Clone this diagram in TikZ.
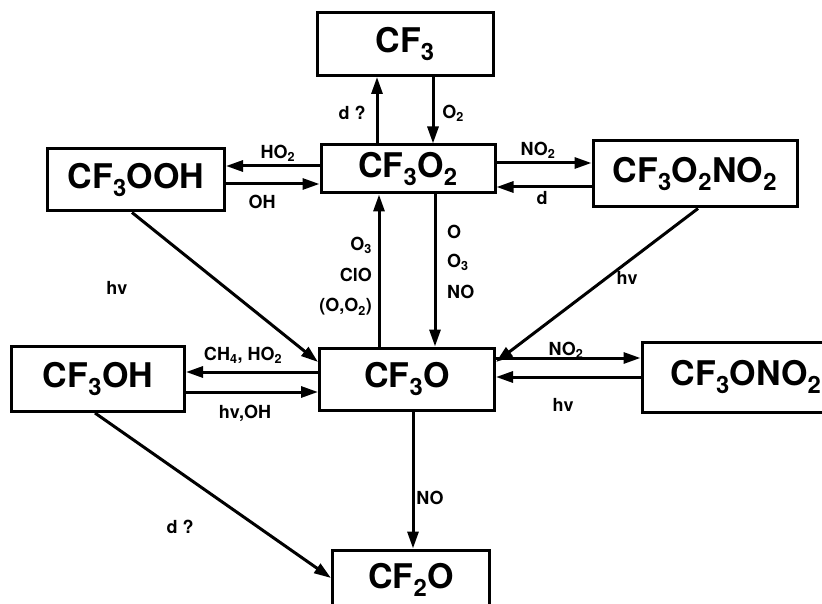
\documentclass[tikz,border=0pt]{standalone}
\usepackage{fontspec}
\setmainfont{TeX Gyre Heros}
\usetikzlibrary{arrows.meta}
\newcommand{\sbs}[1]{\textsubscript{#1}}
\tikzset{
  box/.style={draw, line width=3pt, inner sep=0pt, font=\fontsize{34}{36}\selectfont\bfseries},
  rx/.style={line width=3pt, -{Triangle[length=17pt,width=11pt]}},
  lab/.style={font=\fontsize{18}{20}\selectfont\bfseries, inner sep=1pt}
}
\begin{document}
\begin{tikzpicture}[x=1pt,y=-1pt]
   \useasboundingbox (0,0) rectangle (822,604);
   % species
   \node[box, minimum width=176pt, minimum height=63pt] (cf) at (405,44) {CF\sbs3};
   \node[box, minimum width=174pt, minimum height=48pt] (cfoo) at (408,169) {CF\sbs3O\sbs2};
   \node[box, minimum width=177pt, minimum height=62pt] (cfooh) at (136,180) {CF\sbs3OOH};
   \node[box, minimum width=204pt, minimum height=66pt] (cfoono) at (695,174) {CF\sbs3O\sbs2NO\sbs2};
   \node[box, minimum width=173pt, minimum height=65pt] (cfoh) at (98,379) {CF\sbs3OH};
   \node[box, minimum width=175pt, minimum height=62pt] (cfo) at (407,379) {CF\sbs3O};
   \node[box, minimum width=208pt, minimum height=70pt] (cfono) at (746,377) {CF\sbs3ONO\sbs2};
   \node[box, minimum width=157pt, minimum height=60pt] (cfto) at (411,580) {CF\sbs2O};
   % CF3 <-> CF3O2
   \draw[rx] (cfoo.north -| 377,0) -- (cf.south -| 377,0);
   \draw[rx] (cf.south -| 433,0) -- (cfoo.north -| 433,0);
   % CF3O2 <-> CF3OOH
   \draw[rx] (cfoo.west |- 0,166) -- (cfooh.east |- 0,166);
   \draw[rx] (cfooh.east |- 0,184) -- (cfoo.west |- 0,184);
   % CF3O2 <-> CF3O2NO2
   \draw[rx] (cfoo.east |- 0,163) -- (cfoono.west |- 0,163);
   \draw[rx] (cfoono.west |- 0,187) -- (cfoo.east |- 0,187);
   % CF3O2 <-> CF3O
   \draw[rx] (cfo.north -| 379,0) -- (cfoo.south -| 379,0);
   \draw[rx] (cfoo.south -| 435,0) -- (cfo.north -| 435,0);
   % CF3O <-> CF3OH
   \draw[rx] (cfo.west |- 0,372) -- (cfoh.east |- 0,372);
   \draw[rx] (cfoh.east |- 0,392) -- (cfo.west |- 0,392);
   % CF3O <-> CF3ONO2
   \draw[rx] (cfo.east |- 0,358) -- (cfono.west |- 0,358);
   \draw[rx] (cfono.west |- 0,377) -- (cfo.east |- 0,377);
   % photolysis
   \draw[rx] (cfooh.south -| 132,0) -- (cfo.west |- 0,362);
   \draw[rx] (cfoono.south -| 698,0) -- (cfo.east |- 0,362);
   % to CF2O
   \draw[rx] (cfo.south -| 413,0) -- (cfto.north -| 413,0);
   \draw[rx] (cfoh.south -| 95,0) -- (cfto.west |- 0,578);
   % labels
   \foreach \x/\y/\t [count=\i] in {352/113/d ?, 453/113/O\sbs2, 278/153/HO\sbs2, 262/202/OH,
       538/150/NO\sbs2, 542/198/d, 117/288/hv, 627/278/hv, 243/355/{CH\sbs4, HO\sbs2},
       245/413/{hv,OH}, 566/350/NO\sbs2, 563/405/hv, 430/498/NO, 180/527/d ?}
   {
       \node[lab] (lab\i) at (\x,\y) {\t};
   }
   \foreach \y/\t [count=\i] in {245/O\sbs3, 275/ClO, 307/{(O,O\sbs2)}}
   {
       \node[lab, anchor=east] (up\i) at (373,\y) {\t};
   }
   \foreach \y/\t [count=\i] in {232/O, 262/O\sbs3, 292/NO}
   {
       \node[lab, anchor=west] (dn\i) at (446,\y) {\t};
   }
\end{tikzpicture}
\end{document}
